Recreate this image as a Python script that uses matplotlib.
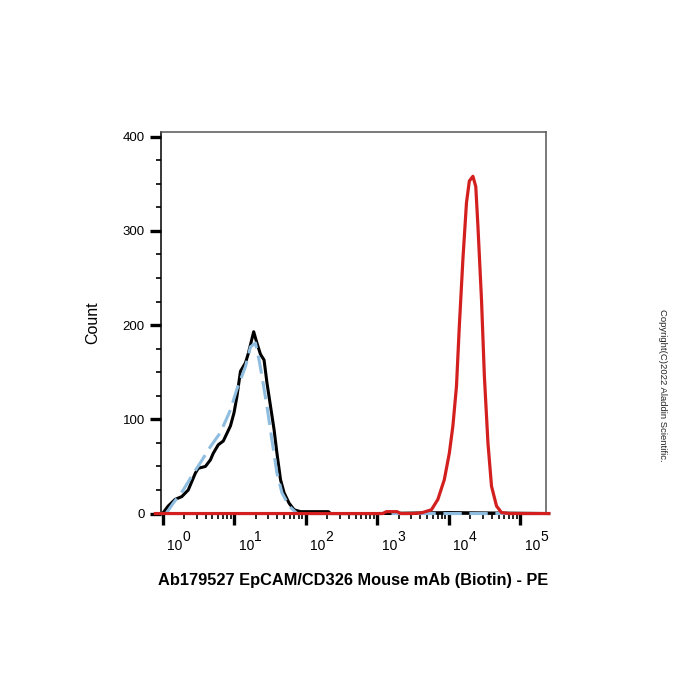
import numpy as np
import matplotlib
matplotlib.use("Agg")
import matplotlib.pyplot as plt
from matplotlib.ticker import FixedLocator, NullFormatter
from matplotlib.transforms import ScaledTranslation, blended_transform_factory

plt.rcParams['font.family'] = ['Liberation Sans', 'DejaVu Sans']

# ---- data (log10 fluorescence, counts) ----
black_log = [0.0, 0.08, 0.176, 0.27, 0.36, 0.46, 0.50, 0.60, 0.67, 0.71, 0.78, 0.85, 0.95,
             1.00, 1.04, 1.09, 1.16, 1.20, 1.275, 1.32, 1.37, 1.42, 1.46, 1.51, 1.56, 1.60,
             1.65, 1.70, 1.77, 1.84, 1.93, 2.05, 2.2, 2.32, 2.35, 3.0, 4.0, 5.4]
black_cnt = [0, 8, 15, 18, 25, 43, 48, 50, 57, 64, 73, 77, 93,
             107, 124, 151, 160, 170, 193, 181, 169, 163, 139, 114, 89, 64,
             36, 22, 11, 4, 2, 2, 2, 2, 0, 0, 1, 0]

blue_log = [0.05, 0.15, 0.29, 0.41, 0.53, 0.67, 0.81, 0.95, 1.04, 1.16, 1.23, 1.30, 1.35,
            1.39, 1.46, 1.53, 1.60, 1.67, 1.77, 1.88, 2.5, 5.4]
blue_cnt = [0, 11, 25, 40, 54, 71, 86, 110, 132, 156, 177, 181, 163,
            146, 114, 78, 43, 22, 8, 0, 0, 0]

red_log = [-0.1, 3.08, 3.13, 3.28, 3.33, 3.5, 3.62, 3.76, 3.85, 3.94, 4.01, 4.06, 4.11, 4.15,
           4.20, 4.25, 4.29, 4.32, 4.34, 4.38, 4.41, 4.46, 4.50, 4.55, 4.60, 4.67,
           4.74, 4.85, 5.4]
red_cnt = [0, 0, 2, 2, 0, 0, 0.7, 4, 15, 36, 64, 93, 135, 199,
           270, 330, 353, 356, 358, 347, 305, 227, 146, 75, 29, 8,
           1, 0, 0]

x_decades = [0, 1, 2, 3, 4, 5]
y_ticks = [0, 100, 200, 300, 400]
y_minor = [25, 50, 75, 125, 150, 175, 225, 250, 275, 325, 350, 375]

xlabel = "Ab179527 EpCAM/CD326 Mouse mAb (Biotin) - PE"
ylabel = "Count"
copyright_text = "Copyright(C)2022 Aladdin Scientific."

# ---- figure ----
fig = plt.figure(figsize=(7, 7), dpi=100)
ax = fig.add_axes([0.2307, 0.2657, 0.5493, 0.5457])

ax.plot(10 ** np.array(black_log), black_cnt, color='black', lw=2.2, zorder=3, clip_on=False)
ax.plot(10 ** np.array(blue_log), blue_cnt, color='#8fbde0', lw=2.2, dashes=(6, 2.5), zorder=4, clip_on=False)
ax.plot(10 ** np.array(red_log), red_cnt, color='#d41f1f', lw=2.3, zorder=5, clip_on=False)

ax.set_xscale('log')
ax.set_xlim(0.968, 2.3e5)
ax.set_ylim(-0.5, 405)

# x ticks
ax.xaxis.set_major_locator(FixedLocator([10.0 ** d for d in x_decades]))
minors = [m * 10.0 ** d for d in x_decades[:-1] for m in range(2, 10)]
ax.xaxis.set_minor_locator(FixedLocator(minors))
ax.xaxis.set_major_formatter(NullFormatter())
ax.xaxis.set_minor_formatter(NullFormatter())
ax.tick_params(axis='x', which='major', length=8, width=2.4, direction='out', color='black')
ax.tick_params(axis='x', which='minor', length=3.8, width=1.2, direction='out', color='black')

# custom x tick labels: "10" plus same-size raised exponent, shifted right
trans = blended_transform_factory(ax.transData, ax.transAxes)
for d in x_decades:
    off = ScaledTranslation(12.5 / 100, -36 / 100, fig.dpi_scale_trans)
    ax.text(10.0 ** d, 0, "10", transform=trans + off, ha='center', va='baseline',
            fontsize=10)
    off2 = ScaledTranslation(24 / 100, -27 / 100, fig.dpi_scale_trans)
    ax.text(10.0 ** d, 0, str(d), transform=trans + off2, ha='center', va='baseline',
            fontsize=10)

# y ticks
ax.set_yticks(y_ticks)
ax.set_yticks(y_minor, minor=True)
ax.tick_params(axis='y', which='major', length=8, width=2.4, direction='out', pad=4,
               labelsize=9.5, color='black')
ax.tick_params(axis='y', which='minor', length=3.8, width=1.2, direction='out', color='black')

for s in ['top', 'right']:
    ax.spines[s].set_color('#555555')
    ax.spines[s].set_linewidth(1.1)
for s in ['left', 'bottom']:
    ax.spines[s].set_color('black')
    ax.spines[s].set_linewidth(1.1)

ax.set_ylabel(ylabel, fontsize=11.5, labelpad=16)
fig.text(0.505, 0.17, xlabel, ha='center', va='center', fontsize=11.8, fontweight='bold')
fig.text(0.946, 0.45, copyright_text, rotation=270, ha='center', va='center',
         fontsize=6.8, color='#222222')

fig.savefig('out.png', dpi=100, facecolor='white')
